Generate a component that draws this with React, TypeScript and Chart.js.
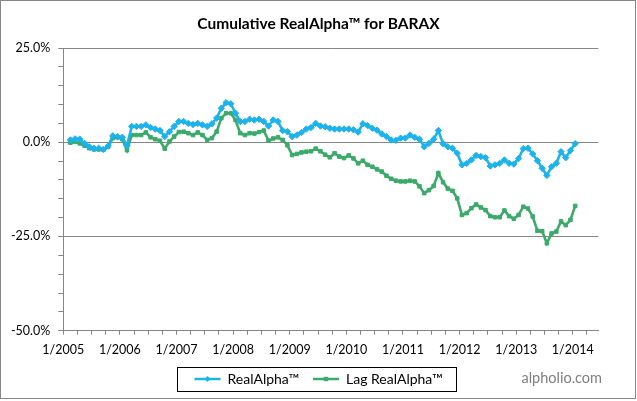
import React, { useEffect, useRef } from 'react';
import { Chart, registerables } from 'chart.js';

Chart.register(...registerables);

// Months after 1/2005 of the first monthly observation
const FIRST_MONTH = 1.5;

const realAlpha = [
  0.6, 0.9, 0.8, -0.3, -1.2, -1.6, -1.6, -1.9, -1.0, 1.7, 1.5, 1.3,
  -0.9, 4.2, 4.2, 4.2, 4.6, 3.9, 3.5, 3.1, 1.5, 2.8, 4.2, 5.5,
  5.5, 5.0, 4.7, 5.0, 4.6, 4.2, 4.9, 6.4, 9.0, 10.5, 10.2, 7.7,
  5.5, 5.5, 6.1, 5.9, 6.1, 5.5, 4.3, 5.9, 5.5, 3.1, 2.8, 1.5,
  1.9, 2.6, 3.5, 3.9, 5.0, 4.3, 4.1, 3.7, 3.5, 3.5, 3.5, 3.5,
  3.3, 2.7, 4.9, 4.4, 3.7, 3.2, 2.2, 1.5, 0.6, 0.5, 1.1, 1.1,
  1.9, 1.3, 0.8, -1.2, -0.3, 0.8, 3.1, -0.4, -1.2, -1.6, -2.9, -6.0,
  -5.6, -4.7, -3.5, -3.8, -4.1, -6.3, -6.0, -5.6, -4.7, -5.6, -5.8, -4.3,
  -1.7, -1.6, -3.1, -4.9, -6.9, -8.8, -6.5, -5.6, -2.5, -4.1, -2.2, -0.4,
];

const lagRealAlpha = [
  -0.1, 0.1, -0.3, -0.9, -1.6, -1.9, -1.9, -2.0, -1.2, 1.1, 1.3, 0.8,
  -2.1, 1.9, 1.9, 1.9, 2.6, 1.3, 0.8, 0.4, -1.7, 0.2, 1.5, 2.7,
  2.8, 2.4, 1.9, 2.6, 1.9, 0.6, 1.1, 2.8, 6.4, 7.7, 7.7, 5.9,
  2.4, 1.9, 2.4, 2.3, 2.7, 3.1, 0.4, 1.0, 1.3, 0.6, -0.8, -3.4,
  -3.1, -2.7, -2.5, -2.4, -1.7, -2.4, -3.3, -4.0, -2.9, -3.8, -4.2, -3.5,
  -4.3, -5.6, -4.9, -6.0, -6.5, -7.2, -7.8, -8.9, -9.7, -10.2, -10.4, -10.4,
  -10.2, -10.4, -11.7, -13.5, -12.7, -11.6, -8.2, -10.6, -12.3, -12.9, -14.9, -19.3,
  -18.8, -17.5, -16.5, -17.3, -18.0, -19.6, -19.9, -19.9, -18.1, -19.6, -20.3, -19.3,
  -17.1, -17.6, -19.7, -23.5, -23.6, -26.8, -24.2, -23.7, -21.0, -22.0, -20.6, -16.9,
];

const yearLabels = [
  '1/2005', '1/2006', '1/2007', '1/2008', '1/2009',
  '1/2010', '1/2011', '1/2012', '1/2013', '1/2014',
];

const seriesNames = ['RealAlpha\u2122', 'Lag RealAlpha\u2122'];
const titleText = 'Cumulative RealAlpha\u2122 for BARAX';
const watermark = 'alpholio.com';

const BLUE = '#1CB3EC';
const GREEN = '#3BAA6A';
const AXIS_GRAY = '#868686';
const FONT = 'Lato';

function drawMarker(ctx: CanvasRenderingContext2D, style: string, x: number, y: number, r: number, color: string) {
  ctx.fillStyle = color;
  ctx.beginPath();
  if (style === 'rectRot') {
    ctx.moveTo(x, y - r);
    ctx.lineTo(x + r, y);
    ctx.lineTo(x, y + r);
    ctx.lineTo(x - r, y);
    ctx.closePath();
  } else {
    ctx.rect(x - r, y - r, 2 * r, 2 * r);
  }
  ctx.fill();
}

const decorPlugin = {
  id: 'decor',
  afterDraw(chart: any) {
    const ctx: CanvasRenderingContext2D = chart.ctx;
    ctx.save();
    // outer frame
    ctx.strokeStyle = AXIS_GRAY;
    ctx.lineWidth = 1;
    ctx.strokeRect(0.5, 0.5, 635, 398);

    // legend frame + markers
    const lg = chart.legend;
    const boxes = lg && lg.legendHitBoxes;
    if (boxes && boxes.length) {
      const left = Math.min(...boxes.map((b: any) => b.left));
      const right = Math.max(...boxes.map((b: any) => b.left + b.width));
      const cy = boxes[0].top + boxes[0].height / 2;
      ctx.strokeStyle = '#000';
      ctx.lineWidth = 1;
      ctx.strokeRect(Math.round(left - 18) + 0.5, Math.round(cy - 12) + 0.5, Math.round(right - left + 31), 24);
      boxes.forEach((b: any, i: number) => {
        const ds = chart.data.datasets[i];
        drawMarker(ctx, ds.pointStyle, b.left + 13, cy, i === 0 ? 3 : 2.2, ds.borderColor);
      });
    }

    // watermark
    ctx.fillStyle = '#7f7f7f';
    ctx.font = `14.5px ${FONT}`;
    ctx.textAlign = 'right';
    ctx.textBaseline = 'middle';
    ctx.fillText(watermark, 602, 378);
    ctx.restore();
  },
};

export default function App() {
  const canvasRef = useRef<HTMLCanvasElement | null>(null);

  useEffect(() => {
    const canvas = canvasRef.current;
    if (!canvas) return;
    const toPoints = (arr: number[]) => arr.map((v, i) => ({ x: FIRST_MONTH + i, y: v }));

    const chart = new Chart(canvas, {
      type: 'line',
      data: {
        datasets: [
          {
            label: seriesNames[0],
            data: toPoints(realAlpha),
            borderColor: BLUE,
            backgroundColor: BLUE,
            pointBackgroundColor: BLUE,
            pointBorderColor: BLUE,
            borderWidth: 2.6,
            pointStyle: 'rectRot',
            pointRadius: 3.2,
            pointBorderWidth: 1,
            tension: 0,
          },
          {
            label: seriesNames[1],
            data: toPoints(lagRealAlpha),
            borderColor: GREEN,
            backgroundColor: GREEN,
            pointBackgroundColor: GREEN,
            pointBorderColor: GREEN,
            borderWidth: 2.6,
            pointStyle: 'rect',
            pointRadius: 2.5,
            pointBorderWidth: 1,
            tension: 0,
          },
        ],
      },
      options: {
        responsive: false,
        animation: false,
        devicePixelRatio: 1,
        layout: { padding: { left: 0, right: 0, top: 0, bottom: 5 } },
        plugins: {
          tooltip: { enabled: false },
          title: {
            display: true,
            text: titleText,
            color: '#000',
            font: { family: FONT, size: 15.5, weight: 'bold', lineHeight: 1.2 },
            padding: { top: 14.2, bottom: 15.2 },
          },
          legend: {
            position: 'bottom',
            labels: {
              boxWidth: 26,
              boxHeight: 2.5,
              padding: 14,
              color: '#000',
              font: { family: FONT, size: 14 },
              generateLabels: (ch: any) =>
                ch.data.datasets.map((ds: any, i: number) => ({
                  text: ds.label,
                  fillStyle: ds.borderColor,
                  strokeStyle: ds.borderColor,
                  lineWidth: 0,
                  hidden: false,
                  datasetIndex: i,
                })),
            },
          },
        },
        scales: {
          x: {
            type: 'linear',
            min: 0,
            max: 113.4,
            afterFit: (s: any) => { s.height = 27.3; },
            border: { display: true, color: AXIS_GRAY, width: 1 },
            grid: { drawOnChartArea: false, drawTicks: true, tickLength: 4, color: AXIS_GRAY, tickColor: AXIS_GRAY },
            ticks: {
              stepSize: 3,
              autoSkip: false,
              maxRotation: 0,
              includeBounds: false,
              padding: 7.8,
              color: '#000',
              font: { family: FONT, size: 12.5 },
              callback: (v: any) => {
                const n = Number(v);
                if (Math.abs(n % 12) < 1e-6) {
                  const idx = Math.round(n / 12);
                  return yearLabels[idx] ?? '';
                }
                return '';
              },
            },
          },
          y: {
            min: -50,
            max: 25,
            afterFit: (s: any) => { s.width = 63.3; },
            border: { display: true, color: AXIS_GRAY, width: 1 },
            grid: {
              tickLength: 5,
              tickColor: AXIS_GRAY,
              color: (c: any) => {
                const v = c.tick ? c.tick.value : 0;
                return Math.abs(v % 25) < 1e-6 && v > -50 ? AXIS_GRAY : 'rgba(0,0,0,0)';
              },
            },
            ticks: {
              stepSize: 5,
              autoSkip: false,
              padding: 8,
              color: '#000',
              font: { family: FONT, size: 12.5 },
              callback: (v: any) => {
                const n = Number(v);
                return Math.abs(n % 25) < 1e-6 ? `${n.toFixed(1)}%` : '';
              },
            },
          },
          // empty right-hand spacer so the plot ends where the reference's does
          spacer: {
            type: 'linear',
            position: 'right',
            display: true,
            afterFit: (s: any) => { s.width = 38.7; },
            grid: { display: false, drawTicks: false },
            border: { display: false },
            ticks: { display: false },
          },
        },
      },
      plugins: [decorPlugin],
    } as any);

    return () => chart.destroy();
  }, []);

  return (
    <div style={{ position: 'absolute', left: 0, top: 0, width: 637, height: 401, background: '#fff' }}>
      <canvas ref={canvasRef} width={637} height={401} style={{ display: 'block' }} />
    </div>
  );
}
